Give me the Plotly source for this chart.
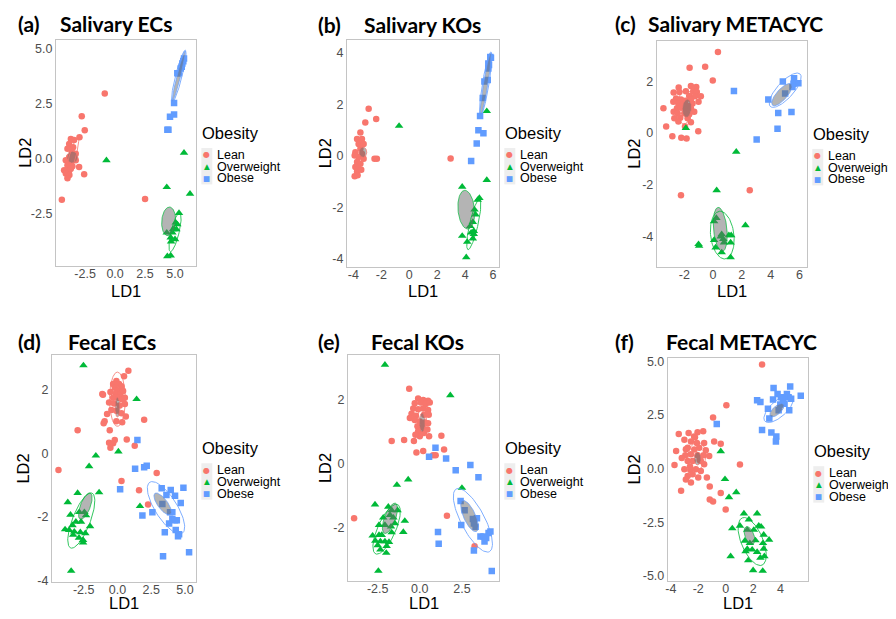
import numpy as np
import plotly.graph_objects as go

# page has an 8px body margin; figure is sized/shifted so the page matches 896x619
OFF = 8
FW, FH = 888, 611

# ---------------- data (LD1, LD2 per group) ----------------
# (a) Salivary ECs
a_lean_x = [-0.86, -2.78, -2.53, -2.97, -2.58, -3.0, -4.44, 2.5, -3.69, -3.42, -3.83, -3.5, -3.97, -3.61, -3.28, -3.83, -3.42, -4.11,
            -3.69, -3.97, -3.56, -4.25, -3.83, -4.11, -3.81, -3.97, -3.69, -3.28]
a_lean_y = [2.96, 1.92, 1.29, 0.97, -0.70, -0.37, -1.86, -1.83, 0.89, 0.85, 0.67, 0.52, 0.45, 0.30, 0.22, 0.07, 0.07, -0.07,
            -0.15, -0.30, -0.34, -0.52, -0.55, -0.67, -0.74, -0.89, -0.45, -0.07]
a_ow_x = [-0.72, 5.75, 4.31, 6.25, 5.33, 5.06, 4.92, 4.78, 5.19, 5.0, 4.64, 4.31, 4.36, 4.64, 4.83, 5.11, 4.67]
a_ow_y = [-0.07, 0.27, -1.29, -1.59, -2.46, -2.90, -3.20, -3.35, -2.98, -3.65, -3.57, -3.35, -4.42, -4.39, -3.2, -3.2, -3.76]
a_ob_x = [4.36, 4.45, 4.58, 4.92, 4.92, 5.19, 5.33, 5.47, 5.61, 5.75, 5.56, 5.69]
a_ob_y = [1.31, 1.31, 1.90, 2.0, 2.53, 3.87, 3.87, 4.09, 4.32, 4.54, 4.17, 4.42]

# (b) Salivary KOs
b_lean_x = [-2.91, -2.37, -3.5, -3.15, -2.49, -2.32, 2.96, -3.74, -3.39, -3.63, -3.27, -3.5, -3.86, -3.39, -3.63, -3.91, -3.27,
            -3.74, -3.5, -3.86, -3.63, -3.74, -3.91, -3.7, -3.44]
b_lean_y = [1.83, 1.43, 0.90, 1.29, -0.11, -0.11, -0.10, 0.65, 0.65, 0.46, 0.46, 0.27, 0.14, 0.08, -0.05, 0.01, -0.11,
            -0.24, -0.31, -0.43, -0.5, -0.62, -0.79, -0.75, -0.54]
b_ow_x = [-0.73, 5.55, 5.55, 3.79, 5.02, 4.9, 4.67, 4.74, 4.36, 4.55, 4.43, 4.62, 4.55, 4.15, 3.79, 4.62, 4.08]
b_ow_y = [1.16, 1.73, -0.94, -1.2, -1.64, -1.71, -2.09, -2.28, -2.73, -2.57, -2.98, -3.04, -3.21, -3.34, -3.11, -2.92, -3.94]
b_ob_x = [4.43, 4.83, 4.95, 5.31, 5.07, 5.26, 5.38, 5.62, 5.66, 5.71, 5.66, 5.85, 5.80]
b_ob_y = [-0.2, 0.48, 0.99, 0.88, 1.54, 2.24, 2.88, 2.94, 3.39, 3.52, 3.58, 3.80, 3.83]

# (c) Salivary METACYC
c_lean_x = [0.34, -0.55, -1.63, -0.02, -2.39, -2.74, -2.34, -1.89, -1.54, -1.17, -1.38, -1.13, -1.66, -1.26, -0.85, -2.57,
            -2.23, -1.93, -1.54, -2.76, -2.41, -2.11, -1.77, -1.43, -1.01, -2.51, -2.23, -1.89, -1.54, -3.45, -2.74, -2.46,
            -2.0, -1.66, -1.31, -2.69, -2.28, -1.77, -1.54, -2.41, -3.26, -1.95, -1.03, -2.83, -2.21, -1.84, -2.23, 2.55]
c_lean_y = [3.13, 2.56, 2.52, 2.03, 1.76, 1.56, 1.58, 1.61, 1.81, 1.77, 1.61, 1.58, 1.43, 1.42, 1.42, 1.33,
            1.29, 1.24, 1.3, 1.2, 1.14, 1.08, 1.05, 1.14, 1.2, 0.95, 0.97, 0.89, 0.95, 0.95, 0.82, 0.76,
            0.76, 0.72, 0.82, 0.57, 0.59, 0.57, 0.41, 0.44, 0.25, 0.25, 0.06, -0.13, -0.19, -0.22, -2.41, -2.22]
c_ow_x = [-1.89, 1.61, 0.25, 2.25, 0.07, 0.23, 0.53, 0.6, 0.71, 0.07, 0.18, 0.6, 1.1, 1.26, 1.22, 1.22, -1.01, -0.97, 0.76]
c_ow_y = [0.19, -0.73, -2.22, -3.57, -3.42, -3.29, -4.01, -3.92, -4.11, -4.14, -4.43, -4.62, -3.96, -3.96, -4.24, -4.81,
          -4.30, -4.37, -4.24]
c_ob_x = [1.45, 3.84, 4.53, 5.45, 4.48, 3.03, 4.85, 5.63, 5.59, 5.93, 5.52, 5.01]
c_ob_y = [1.62, 1.29, 0.77, 0.81, 0.16, -0.25, 1.99, 2.11, 1.9, 1.92, 1.77, 1.52]

# (d) Fecal ECs
d_lean_x = [0.81, 0.49, -1.07, -2.95, -4.37, 1.98, 0.69, 1.28, 0.3, 1.6, 2.27, 2.91, -0.08, -0.32, 0.12, 0.3, -0.2, 0.05,
            -0.52, -0.12, 0.22, 0.42, -0.32, 0.05, 0.35, -0.62, -0.25, 0.17, 0.55, -0.45, -0.08, 0.3, -0.77, 0.62, -0.95,
            -1.02, -0.08, 0.35, -0.57, -0.62, -0.32, -0.2, -0.52, -1.12, 0.55]
d_lean_y = [2.58, 2.41, 1.83, 0.72, -0.53, 1.05, 0.43, 0.23, -0.87, -1.16, -1.61, -0.62, 2.26, 2.17, 2.17, 2.1, 2.05, 1.97,
            1.92, 1.87, 1.85, 1.95, 1.74, 1.74, 1.69, 1.59, 1.56, 1.49, 1.54, 1.35, 1.33, 1.25, 1.23, 1.15, 1.0,
            0.94, 1.0, 0.97, 0.72, 0.33, 0.31, 0.41, 0.17, 1.85, 1.74]
d_ow_x = [-2.52, 1.42, -1.6, -2.1, 0.07, -1.36, 1.67, -3.43, -2.95, -3.68, -3.48, -2.83, -2.45, -2.33, -3.33, -3.08, -2.7,
          -2.03, -3.88, -3.58, -3.2, -2.75, -2.38, -3.28, -2.55, -2.85, -2.55]
d_ow_y = [2.75, 1.69, -0.08, -0.41, 0.05, -1.23, -1.66, -3.69, -1.25, -1.54, -1.93, -1.85, -1.85, -1.95, -2.26, -2.15, -2.15,
          -2.29, -2.39, -2.41, -2.46, -2.48, -2.51, -2.56, -2.72, -2.65, -2.8]
d_ob_x = [1.48, 1.31, 1.98, 2.17, 0.2, 1.85, 2.59, 3.38, 5.31, 4.89, 3.28, 3.95, 3.63, 4.27, 4.69, 3.33, 3.9, 4.07, 4.27,
          4.4, 3.83, 4.32, 4.57, 4.49, 3.51, 4.07]
d_ob_y = [0.41, -0.49, -0.44, -0.39, -1.13, -1.95, -1.85, -3.23, -3.1, -1.08, -1.1, -1.15, -1.31, -1.33, -1.56, -1.59, -1.85,
          -2.07, -2.1, -2.1, -2.2, -2.41, -2.54, -2.6, -2.48, -1.85]

# (e) Fecal KOs
e_lean_x = [-0.63, -1.67, -0.93, -0.35, 0.49, 1.28, 1.44, -0.2, 0.2, 0.79, 0.94, -3.9, 1.61, 3.25, 0.55, -0.1, 0.2, 0.49,
            -0.3, 0.06, 0.35, 0.59, -0.39, -0.1, 0.2, 0.49, -0.49, -0.24, 0.26, 0.53, -0.59, -0.3, 0.0, 0.3, -0.14, 0.16,
            -0.1, 0.24, 0.0, -0.26, 0.45]
e_lean_y = [2.33, 0.70, 0.73, 0.70, 1.26, 0.87, 0.44, 0.34, 0.39, 0.26, 0.26, -1.71, -1.63, -2.58, 0.85, 2.03, 1.98, 1.96,
            1.88, 1.9, 1.86, 1.9, 1.72, 1.69, 1.72, 1.67, 1.55, 1.49, 1.52, 1.52, 1.42, 1.36, 1.31, 1.28, 1.16, 1.14,
            1.01, 0.95, 0.85, 0.9, 1.06]
e_ow_x = [-2.07, 1.81, -0.69, -1.36, 2.5, -2.66, -0.89, -0.98, -2.46, -1.87, -1.67, -1.32, -1.77, -2.17, -1.57, -2.42, -2.07,
          -1.71, -1.48, -2.8, -2.42, -2.26, -2.64, -2.34, -2.07, -1.83, -2.5, -1.97, -2.34, -1.99, -1.67]
e_ow_y = [3.08, 2.13, -0.5, -0.67, -0.76, -1.28, -1.79, -2.14, -3.35, -1.35, -1.46, -1.46, -1.61, -1.69, -1.69, -1.92, -1.92,
          -1.97, -1.87, -2.25, -2.23, -2.23, -2.41, -2.43, -2.43, -2.45, -2.55, -2.58, -2.69, -2.79, -2.15]
e_ob_x = [0.55, 0.93, 1.56, 2.13, 3.0, 3.48, 1.08, 1.12, 4.27, 3.21, 2.42, 2.66, 2.46, 3.15, 3.21, 3.39, 3.31, 3.6, 3.78,
          3.84, 4.08, 4.19, 3.94]
e_ob_y = [0.21, 0.49, 0.16, -0.21, -0.05, -0.43, -2.14, -2.5, -3.35, -2.71, -1.17, -1.46, -1.92, -1.73, -1.87, -1.71, -1.97,
          -2.28, -2.28, -2.43, -2.17, -2.12, -2.32]

# (f) Fecal METACYC
f_lean_x = [2.65, 0.05, -0.92, 1.04, -0.36, -0.84, -3.25, 0.0, -0.36, -1.16, -0.92, -1.16, -3.73, -3.42, -2.7, -2.05, -1.64,
            -2.24, -3.01, -2.53, -2.1, -1.57, -3.61, -2.77, -2.29, -1.93, -1.45, -2.94, -2.53, -2.05, -1.61, -1.2, -2.77,
            -2.41, -1.81, -1.57, -3.01, -2.58, -2.17, -1.81, -2.77, -2.41, -2.0, -2.53, -1.37, -2.9, -2.3, -1.9, -2.6,
            -3.2, -2.9]
f_lean_y = [4.85, 2.95, 2.38, 0.2, 1.16, 1.27, -1.03, -1.9, -1.13, -1.44, -1.53, -0.83, 0.17, 1.62, 1.66, 1.69, 1.74,
            1.46, 1.35, 1.27, 1.2, 1.2, 0.82, 0.97, 0.89, 0.97, 0.86, 0.62, 0.67, 0.62, 0.62, 0.59, 0.36,
            0.36, 0.36, 0.21, -0.03, -0.06, -0.03, -0.11, -0.34, -0.26, -0.41, -0.64, -0.41, 0.9, 1.5, 0.4, 0.1,
            0.5, -0.5]
f_ow_x = [-0.36, -0.05, 0.24, 0.77, 0.36, 1.33, 2.29, 0.48, 1.04, 1.69, 2.41, 2.58, 1.57, 2.05, 2.77, 3.16, 1.4, 1.76, 2.17,
          2.72, 1.57, 1.93, 2.29, 2.77, 1.64, 2.53, 2.82, 2.0, 2.7, 1.45]
f_ow_y = [0.81, -0.49, -1.33, -1.1, -4.08, -2.09, -2.09, -2.78, -2.66, -2.37, -2.66, -2.7, -2.85, -2.85, -3.08, -3.31, -3.36,
          -3.47, -3.34, -3.47, -3.74, -3.77, -3.88, -3.73, -4.27, -4.15, -4.08, -4.73, -4.76, -3.85]
f_ob_x = [-0.65, 2.29, 2.53, 2.65, 3.33, 3.69, 3.66, 3.49, 4.7, 5.47, 3.08, 3.45, 3.78, 4.17, 4.46, 4.58, 4.77, 3.98, 4.29,
          3.86, 3.18, 4.63, 4.02]
f_ob_y = [2.08, 3.18, 3.1, 1.8, 1.68, 1.5, 1.27, 3.76, 3.83, 3.4, 2.79, 3.22, 3.48, 3.25, 3.48, 3.33, 3.25, 2.99, 3.02,
          2.72, 2.34, 2.72, 3.33]

# ellipse estimates: (group, kind, centre x, centre y, major half-axis dx, dy, minor/major ratio)
a_ellipses = [("Lean", "fill", -3.56, 0.07, 0.0, 0.27, 0.9), ("Lean", "line", -3.6, 0.0, 0.5, 0.95, 0.15),
              ("Overweight", "fill", 4.47, -2.84, 0.08, 0.65, 0.48), ("Overweight", "line", 5.0, -3.33, 0.39, 0.88, 0.2),
              ("Obese", "fill", 5.31, 3.74, 0.53, 1.14, 0.07), ("Obese", "line", 5.31, 3.74, 0.55, 1.18, 0.12)]
b_ellipses = [("Lean", "fill", -3.32, 0.14, 0.0, 0.2, 0.74),
              ("Overweight", "fill", 4.08, -2.09, -0.12, 0.75, 0.42), ("Overweight", "line", 4.62, -2.66, 0.415, 0.98, 0.16),
              ("Obese", "fill", 5.47, 2.78, 0.36, 1.2, 0.07), ("Obese", "line", 5.47, 2.78, 0.38, 1.25, 0.1)]
c_ellipses = [("Lean", "fill", -1.82, 0.95, 0.05, 0.35, 0.5), ("Lean", "line", -1.95, 1.01, 0.1, 0.66, 0.46),
              ("Overweight", "fill", 0.5, -3.73, -0.15, 0.85, 0.3), ("Overweight", "line", 0.64, -3.95, -0.2, 0.92, 0.48),
              ("Obese", "fill", 4.78, 1.48, 0.65, 0.41, 0.37), ("Obese", "line", 5.01, 1.65, 1.03, 0.63, 0.37)]
d_ellipses = [("Lean", "fill", 0.0, 1.44, 0.0, 0.31, 0.25), ("Lean", "line", 0.0, 1.69, 0.0, 0.85, 0.29),
              ("Overweight", "fill", -2.38, -1.66, 0.37, 0.41, 0.35), ("Overweight", "line", -2.68, -2.11, 0.79, 0.86, 0.3),
              ("Obese", "fill", 3.35, -1.59, 0.57, -0.33, 0.38), ("Obese", "line", 3.6, -1.71, 1.2, -0.8, 0.36)]
e_ellipses = [("Lean", "fill", 0.14, 1.28, 0.0, 0.3, 0.31), ("Lean", "line", 0.14, 1.35, 0.0, 0.45, 0.29),
              ("Overweight", "fill", -1.77, -1.71, 0.33, 0.47, 0.34), ("Overweight", "line", -1.97, -2.05, 0.65, 0.77, 0.33),
              ("Obese", "fill", 2.95, -1.64, 0.41, -0.48, 0.35), ("Obese", "line", 3.15, -1.77, 0.98, -0.98, 0.33)]
f_ellipses = [("Lean", "fill", -2.05, 0.47, 0.0, 0.3, 0.53), ("Lean", "line", -2.1, 0.58, 0.1, 0.65, 0.63),
              ("Overweight", "fill", 1.73, -3.11, -0.24, 0.41, 0.47), ("Overweight", "line", 1.93, -3.39, -0.72, 1.1, 0.42),
              ("Obese", "fill", 3.73, 2.72, 0.48, 0.28, 0.45), ("Obese", "line", 3.86, 2.79, 1.0, 0.58, 0.43)]

groups = ["Lean", "Overweight", "Obese"]

# ---------------- styling / layout ----------------
COL = {"Lean": "#F8766D", "Overweight": "#00BA38", "Obese": "#619CFF"}
SYM = {"Lean": "circle", "Overweight": "triangle-up", "Obese": "square"}
MS = {"Lean": 6.5, "Overweight": 7.5, "Obese": 6.5}
GLYPH = {"Lean": ("●", 8), "Overweight": ("▲", 7.5), "Obese": ("■", 7.5)}

panels = [
    dict(label="(a)", title="Salivary ECs", lab_x=14, tit_x=56, tit_y=21, frame=(53, 37, 194, 267),
         xr=[-4.94, 6.78], yr=[-4.87, 5.40], xt=[-2.5, 0, 2.5, 5], xtl=["-2.5", "0.0", "2.5", "5.0"],
         yt=[-2.5, 0, 2.5, 5], ytl=["-2.5", "0.0", "2.5", "5.0"], ld2_x=22, ld1_y=292,
         data=[(a_lean_x, a_lean_y), (a_ow_x, a_ow_y), (a_ob_x, a_ob_y)], ell=a_ellipses),
    dict(label="(b)", title="Salivary KOs", lab_x=315, tit_x=361, tit_y=22, frame=(345, 37, 498, 268),
         xr=[-4.47, 6.45], yr=[-4.32, 4.51], xt=[-4, -2, 0, 2, 4, 6], xtl=["-4", "-2", "0", "2", "4", "6"],
         yt=[-4, -2, 0, 2, 4], ytl=["-4", "-2", "0", "2", "4"], ld2_x=323, ld1_y=292,
         data=[(b_lean_x, b_lean_y), (b_ow_x, b_ow_y), (b_ob_x, b_ob_y)], ell=b_ellipses),
    dict(label="(c)", title="Salivary METACYC", lab_x=613, tit_x=646, tit_y=21, frame=(656, 38, 807, 268),
         xr=[-3.91, 6.55], yr=[-5.19, 3.57], xt=[-2, 0, 2, 4, 6], xtl=["-2", "0", "2", "4", "6"],
         yt=[-4, -2, 0, 2], ytl=["-4", "-2", "0", "2"], ld2_x=633, ld1_y=292,
         data=[(c_lean_x, c_lean_y), (c_ow_x, c_ow_y), (c_ob_x, c_ob_y)], ell=c_ellipses),
    dict(label="(d)", title="Fecal ECs", lab_x=14, tit_x=64, tit_y=343, frame=(49, 357, 194, 588),
         xr=[-4.86, 5.85], yr=[-4.05, 3.08], xt=[-2.5, 0, 2.5, 5], xtl=["-2.5", "0.0", "2.5", "5.0"],
         yt=[-4, -2, 0, 2], ytl=["-4", "-2", "0", "2"], ld2_x=20, ld1_y=609,
         data=[(d_lean_x, d_lean_y), (d_ow_x, d_ow_y), (d_ob_x, d_ob_y)], ell=d_ellipses),
    dict(label="(e)", title="Fecal KOs", lab_x=315, tit_x=368, tit_y=343, frame=(346, 357, 498, 587),
         xr=[-4.27, 4.72], yr=[-3.68, 3.39], xt=[-2.5, 0, 2.5], xtl=["-2.5", "0.0", "2.5"],
         yt=[-2, 0, 2], ytl=["-2", "0", "2"], ld2_x=323, ld1_y=609,
         data=[(e_lean_x, e_lean_y), (e_ow_x, e_ow_y), (e_ob_x, e_ob_y)], ell=e_ellipses),
    dict(label="(f)", title="Fecal METACYC", lab_x=613, tit_x=664, tit_y=343, frame=(667, 360, 808, 587),
         xr=[-4.22, 6.02], yr=[-5.25, 5.16], xt=[-4, -2, 0, 2, 4], xtl=["-4", "-2", "0", "2", "4"],
         yt=[-5, -2.5, 0, 2.5, 5], ytl=["-5.0", "-2.5", "0.0", "2.5", "5.0"], ld2_x=633, ld1_y=609,
         data=[(f_lean_x, f_lean_y), (f_ow_x, f_ow_y), (f_ob_x, f_ob_y)], ell=f_ellipses),
]

SANS = "Liberation Sans, Arial, sans-serif"
TICKFONT = dict(family=SANS, size=12.5, color="#4D4D4D")
TITLEFONT = dict(family="Lato, sans-serif", size=21, color="black")


def px(xp):
    return (xp - OFF) / FW


def py(yp):
    return 1 - (yp - OFF) / FH


def ellipse_xy(cx, cy, ux, uy, ratio, sx, sy, n=90):
    pxu, pyu = ux * sx, uy * sy
    vx, vy = -pyu * ratio / sx, pxu * ratio / sy
    t = np.linspace(0, 2 * np.pi, n)
    return cx + ux * np.cos(t) + vx * np.sin(t), cy + uy * np.cos(t) + vy * np.sin(t)


fig = go.Figure()
annotations = []
shapes = []
layout_axes = {}


def note(text, x, y, font, xanchor="left", angle=0):
    annotations.append(dict(text=text, x=x, y=y, xref="paper", yref="paper", xanchor=xanchor,
                            yanchor="middle", showarrow=False, font=font, textangle=angle, borderpad=0))


for i, p in enumerate(panels, start=1):
    xa = "x" if i == 1 else f"x{i}"
    ya = "y" if i == 1 else f"y{i}"
    x0, y0, x1, y1 = p["frame"]
    sx = (x1 - x0) / (p["xr"][1] - p["xr"][0])
    sy = (y1 - y0) / (p["yr"][1] - p["yr"][0])

    for g, (gx, gy) in zip(groups, p["data"]):
        fig.add_trace(go.Scatter(x=gx, y=gy, mode="markers", xaxis=xa, yaxis=ya, showlegend=False,
                                 marker=dict(symbol=SYM[g], size=MS[g], color=COL[g], line=dict(width=0)),
                                 name=g))
    for (g, kind, cx, cy, ux, uy, r) in p["ell"]:
        ex, ey = ellipse_xy(cx, cy, ux, uy, r, sx, sy)
        if kind == "fill":
            fig.add_trace(go.Scatter(x=ex, y=ey, mode="lines", fill="toself", xaxis=xa, yaxis=ya,
                                     fillcolor="rgba(105,105,105,0.5)", showlegend=False, hoverinfo="skip",
                                     line=dict(color=COL[g], width=0.7)))
        else:
            fig.add_trace(go.Scatter(x=ex, y=ey, mode="lines", xaxis=xa, yaxis=ya, opacity=0.8,
                                     showlegend=False, hoverinfo="skip", line=dict(color=COL[g], width=1)))

    axkey_x = "xaxis" if i == 1 else f"xaxis{i}"
    axkey_y = "yaxis" if i == 1 else f"yaxis{i}"
    common = dict(showgrid=False, zeroline=False, showline=True, mirror=True, linecolor="#C4C4C4", linewidth=1,
                  ticks="", tickfont=TICKFONT)
    layout_axes[axkey_x] = dict(domain=[px(x0), px(x1)], range=p["xr"], anchor=ya, tickvals=p["xt"],
                                ticktext=p["xtl"], ticklabelstandoff=-4, **common)
    layout_axes[axkey_y] = dict(domain=[py(y1), py(y0)], range=p["yr"], anchor=xa, tickvals=p["yt"],
                                ticktext=p["ytl"], ticklabelstandoff=0, **common)

    # titles
    note("<b>" + p["label"] + "</b>", px(p["lab_x"]), py(p["tit_y"]), TITLEFONT)
    note("<b>" + p["title"] + "</b>", px(p["tit_x"]), py(p["tit_y"]), TITLEFONT)
    # axis titles
    note("LD1", px((x0 + x1) / 2), py(p["ld1_y"]), dict(family=SANS, size=16.5, color="black"), "center")
    note("LD2", px(p["ld2_x"]), py((y0 + y1) / 2), dict(family=SANS, size=16.5, color="black"), "center", -90)
    # legend
    lx = x1 + 6
    lyt = y0 + 95
    note("Obesity", px(lx - 1), py(lyt), dict(family=SANS, size=16.5, color="black"))
    shapes.append(dict(type="rect", xref="paper", yref="paper", x0=px(lx - 1), x1=px(lx + 10),
                       y0=py(lyt + 52), y1=py(lyt + 15), fillcolor="#EEEEEE", line=dict(width=0), layer="below"))
    for k, g in enumerate(groups):
        yy = lyt + 22 + 12 * k
        glyph, gs = GLYPH[g]
        note(glyph, px(lx + 4.5), py(yy), dict(family="DejaVu Sans", size=gs, color=COL[g]), "center")
        note(g, px(lx + 14), py(yy), dict(family=SANS, size=12.5, color="black"))

fig.update_layout(width=FW, height=FH, margin=dict(l=0, r=0, t=0, b=0), paper_bgcolor="white",
                  plot_bgcolor="white", showlegend=False, annotations=annotations, shapes=shapes,
                  **layout_axes)

fig.write_html("out.html")
